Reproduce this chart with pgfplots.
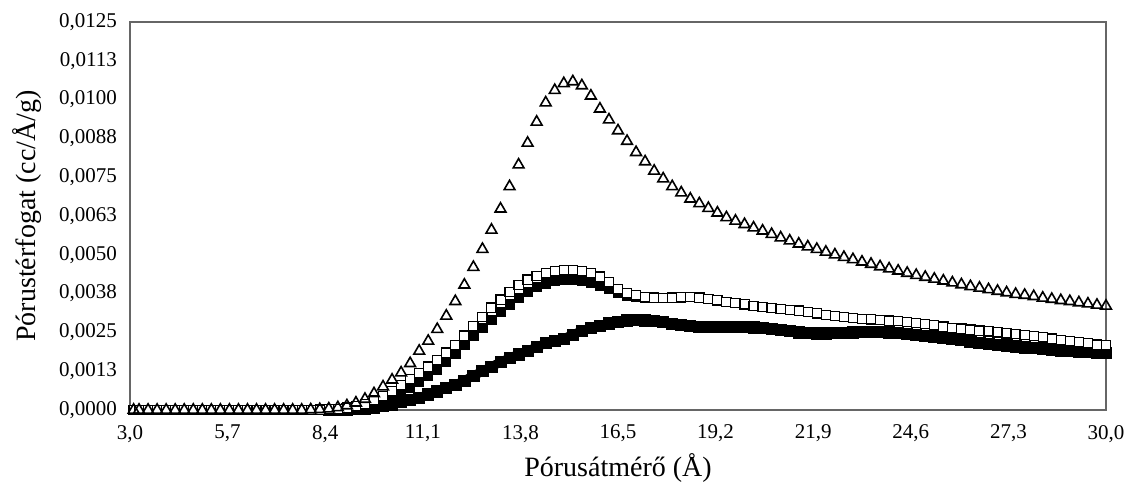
\documentclass[border=0pt]{standalone}
\usepackage{fontspec}
\setmainfont{Liberation Serif}
\usepackage{pgfplots}
\pgfplotsset{compat=1.18}
\usepackage{pgfplotstable}
\usetikzlibrary{calc}
\pgfplotstableread{
x T S F3 F4
3.1 0 0 0 0
3.25 0 0 0 0
3.5 0 0 0 0
3.75 0 0 0 0
4.0 0 0 0 0
4.25 0 0 0 0
4.5 0 0 0 0
4.75 0 0 0 0
5.0 0 0 0 0
5.25 0 0 0 0
5.5 0 0 0 0
5.75 0 0 0 0
6.0 0 0 0 0
6.25 0 0 0 0
6.5 0 0 0 0
6.75 0 0 0 0
7.0 0 0 0 0
7.25 0 0 0 0
7.5 0 0 0 0
7.75 0 0 0 0
8.0 0.00001 0 0 0
8.25 0.00002 0.00001 0 0
8.5 0.00004 0.00002 0.00001 0
8.75 0.00008 0.00004 0.00002 0.00001
9.0 0.00014 0.00008 0.00005 0.00002
9.25 0.00023 0.00013 0.00008 0.00003
9.5 0.00035 0.00020 0.00012 0.00005
9.75 0.00053 0.00031 0.00020 0.00008
10.0 0.00075 0.00045 0.00030 0.00012
10.25 0.00097 0.00062 0.00042 0.00018
10.5 0.00120 0.00080 0.00055 0.00025
10.75 0.00150 0.00100 0.00072 0.00032
11.0 0.00190 0.00120 0.00090 0.00040
11.25 0.00222 0.00140 0.00110 0.00050
11.5 0.00260 0.00160 0.00130 0.00060
11.75 0.00303 0.00185 0.00155 0.00070
12.0 0.00350 0.00210 0.00180 0.00080
12.25 0.00403 0.00240 0.00210 0.00095
12.5 0.00460 0.00270 0.00240 0.00110
12.75 0.00518 0.00300 0.00265 0.00125
13.0 0.00580 0.00330 0.00290 0.00140
13.25 0.00648 0.00356 0.00316 0.00154
13.5 0.00720 0.00380 0.00340 0.00168
13.75 0.00790 0.00402 0.00362 0.00179
14.0 0.00860 0.00420 0.00380 0.00190
14.25 0.00928 0.00432 0.00396 0.00203
14.5 0.00990 0.00440 0.00408 0.00215
14.75 0.01030 0.00447 0.00415 0.00223
15.0 0.01052 0.00451 0.00418 0.00230
15.25 0.01058 0.00451 0.00418 0.00243
15.5 0.01045 0.00447 0.00415 0.00255
15.75 0.01012 0.00441 0.00409 0.00264
16.0 0.00970 0.00430 0.00400 0.00272
16.25 0.00935 0.00412 0.00392 0.00279
16.5 0.00900 0.00390 0.00376 0.00285
16.75 0.00866 0.00377 0.00369 0.00289
17.0 0.00830 0.00370 0.00366 0.00290
17.25 0.00800 0.00365 0.00363 0.00289
17.5 0.00770 0.00362 0.00361 0.00287
17.75 0.00745 0.00361 0.00354 0.00283
18.0 0.00720 0.00362 0.00355 0.00278
18.25 0.00700 0.00363 0.00356 0.00274
18.5 0.00680 0.00364 0.00357 0.00270
18.75 0.00665 0.00362 0.00355 0.00269
19.0 0.00650 0.00358 0.00351 0.00268
19.25 0.00635 0.00353 0.00346 0.00268
19.5 0.00620 0.00348 0.00341 0.00267
19.75 0.00609 0.00344 0.00337 0.00267
20.0 0.00598 0.00340 0.00333 0.00267
20.25 0.00587 0.00335 0.00328 0.00266
20.5 0.00577 0.00331 0.00324 0.00264
20.75 0.00566 0.00328 0.00321 0.00261
21.0 0.00555 0.00325 0.00318 0.00258
21.25 0.00545 0.00322 0.00315 0.00254
21.5 0.00535 0.00320 0.00313 0.00250
21.75 0.00526 0.00315 0.00308 0.00248
22.0 0.00518 0.00311 0.00304 0.00247
22.25 0.00509 0.00306 0.00299 0.00247
22.5 0.00500 0.00302 0.00295 0.00248
22.75 0.00492 0.00299 0.00292 0.00249
23.0 0.00485 0.00297 0.00290 0.00250
23.25 0.00477 0.00294 0.00287 0.00251
23.5 0.00470 0.00292 0.00285 0.00251
23.75 0.00462 0.00290 0.00283 0.00251
24.0 0.00455 0.00288 0.00281 0.00250
24.25 0.00448 0.00286 0.00279 0.00248
24.5 0.00441 0.00284 0.00277 0.00246
24.75 0.00434 0.00280 0.00273 0.00243
25.0 0.00428 0.00277 0.00270 0.00240
25.25 0.00422 0.00273 0.00266 0.00237
25.5 0.00416 0.00269 0.00262 0.00233
25.75 0.00410 0.00265 0.00258 0.00229
26.0 0.00404 0.00262 0.00255 0.00225
26.25 0.00398 0.00259 0.00252 0.00221
26.5 0.00393 0.00256 0.00249 0.00217
26.75 0.00388 0.00253 0.00246 0.00213
27.0 0.00383 0.00250 0.00243 0.00210
27.25 0.00378 0.00247 0.00240 0.00208
27.5 0.00373 0.00244 0.00237 0.00205
27.75 0.00370 0.00241 0.00234 0.00202
28.0 0.00366 0.00238 0.00231 0.00200
28.25 0.00361 0.00234 0.00227 0.00197
28.5 0.00357 0.00230 0.00223 0.00195
28.75 0.00353 0.00226 0.00219 0.00192
29.0 0.00350 0.00222 0.00215 0.00190
29.25 0.00346 0.00219 0.00212 0.00188
29.5 0.00342 0.00215 0.00208 0.00187
29.75 0.00338 0.00211 0.00204 0.00185
30.0 0.00335 0.00208 0.00201 0.00183
}\data
\begin{document}
\begin{tikzpicture}
\begin{axis}[
  name=ax,
  width=488pt, height=194pt, scale only axis,
  xmin=3, xmax=30, ymin=0, ymax=0.0125,
  axis line style={black!60, line width=0.8pt},
  major tick length=0pt,
  xtick={3,5.7,8.4,11.1,13.8,16.5,19.2,21.9,24.6,27.3,30},
  xticklabels={{3,0},{5,7},{8,4},{11,1},{13,8},{16,5},{19,2},{21,9},{24,6},{27,3},{30,0}},
  ytick={0,0.00125,0.0025,0.00375,0.005,0.00625,0.0075,0.00875,0.01,0.01125,0.0125},
  yticklabels={{0,0000},{0,0013},{0,0025},{0,0038},{0,0050},{0,0063},{0,0075},{0,0088},{0,0100},{0,0113},{0,0125}},
  scaled y ticks=false,
  tick label style={font=\fontsize{10.5}{12}\selectfont},
  xticklabel style={yshift=-4pt},
  yticklabel style={xshift=-3pt},
  xlabel={Pórusátmérő (Å)}, ylabel={Pórustérfogat (cc/Å/g)},
  label style={font=\fontsize{14}{16}\selectfont},
  xlabel style={yshift=1pt},
  ylabel style={yshift=2pt},
]
\addplot[black, line width=4.5pt, mark=square*, mark size=2.8pt, mark options={solid, line width=0.4pt}, restrict x to domain=8.4:30] table[x=x, y=F4] {\data};
\addplot[black, only marks, mark=square*, mark size=1.9pt] table[x=x, y=F4] {\data};
\addplot[black, only marks, mark=square*, mark size=2.3pt, restrict x to domain=8.4:17.6] table[x=x, y=F3] {\data};
\addplot[black, only marks, mark=square*, mark size=2.3pt, mark options={fill=white, draw=black, line width=0.6pt}] table[x=x, y=S] {\data};
\addplot[black, only marks, mark=triangle, mark size=3.1pt, mark options={line width=0.8pt}] table[x=x, y=T] {\data};
\end{axis}
\pgfresetboundingbox
\useasboundingbox ($(ax.south west)+(-65pt,-37pt)$) rectangle ($(ax.north east)+(10pt,11pt)$);
\end{tikzpicture}
\end{document}
